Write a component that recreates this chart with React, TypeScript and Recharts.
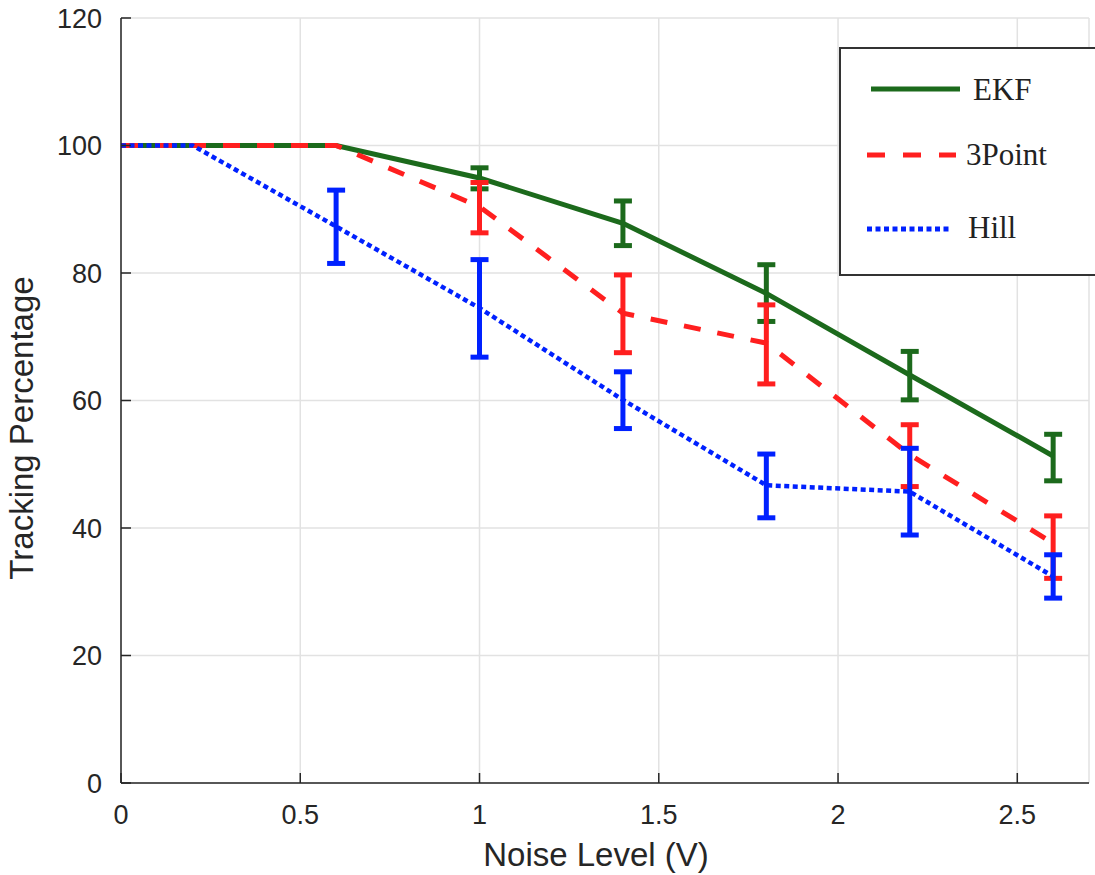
import React from 'react';
import { LineChart, Line, XAxis, YAxis, CartesianGrid, ErrorBar } from 'recharts';

// noise level (V)
const noise = [0, 0.2, 0.6, 1.0, 1.4, 1.8, 2.2, 2.6];

const ekf = [100, 100, 100, 94.9, 87.8, 76.8, 64.0, 51.3];
const ekfLow = [null, null, null, 93.2, 84.3, 72.4, 60.1, 47.4];
const ekfHigh = [null, null, null, 96.5, 91.3, 81.3, 67.7, 54.7];

const threePoint = [100, 100, 100, 90.4, 73.7, 69.0, 51.5, 37.6];
const threePointLow = [null, null, null, 86.3, 67.5, 62.6, 46.5, 32.1];
const threePointHigh = [null, null, null, 94.2, 79.7, 75.0, 56.2, 41.9];

const hill = [100, 100, 87.3, 74.5, 60.1, 46.7, 45.7, 32.4];
const hillLow = [null, null, 81.5, 66.8, 55.6, 41.6, 38.9, 29.0];
const hillHigh = [null, null, 93.0, 82.1, 64.5, 51.6, 52.5, 35.8];

const xTicks = [0, 0.5, 1, 1.5, 2, 2.5];
const yTicks = [0, 20, 40, 60, 80, 100, 120];

const GREEN = '#1c6a1c';
const RED = '#ff1f1f';
const BLUE = '#0021ff';
const AXIS = '#262626';

const err = (v: number, lo: number | null, hi: number | null) =>
  lo == null || hi == null ? null : [v - lo, hi - v];

const data = noise.map((n, i) => ({
  noise: n,
  ekf: ekf[i],
  ekfErr: err(ekf[i], ekfLow[i], ekfHigh[i]),
  threePoint: threePoint[i],
  threePointErr: err(threePoint[i], threePointLow[i], threePointHigh[i]),
  hill: hill[i],
  hillErr: err(hill[i], hillLow[i], hillHigh[i]),
}));

const tickStyle = { fill: AXIS, fontSize: 27, fontFamily: '"Liberation Sans", Arial, sans-serif' };
const labelFont = '"Liberation Sans", Arial, sans-serif';
const legendFont = '"Liberation Serif", "DejaVu Serif", serif';

const LegendBox = () => (
  <div
    style={{
      position: 'absolute',
      left: 839,
      top: 47,
      width: 270,
      height: 229,
      boxSizing: 'border-box',
      border: '2px solid #333',
      background: '#fff',
    }}
  >
    <svg width={270} height={229} style={{ position: 'absolute', left: -2, top: -2 }}>
      <line x1={32} x2={121} y1={42} y2={42} stroke={GREEN} strokeWidth={5} />
      <text x={134} y={53} fontSize={31} fontFamily={legendFont} fill="#222">EKF</text>
      <line x1={28} x2={117} y1={108} y2={108} stroke={RED} strokeWidth={5} strokeDasharray="18 18" />
      <text x={127} y={118} fontSize={31} fontFamily={legendFont} fill="#222">3Point</text>
      <line x1={28} x2={113} y1={182} y2={182} stroke={BLUE} strokeWidth={5} strokeDasharray="5 3.5" />
      <text x={129} y={191} fontSize={31} fontFamily={legendFont} fill="#222">Hill</text>
    </svg>
  </div>
);

const App: React.FC = () => {
  return (
    <div style={{ position: 'absolute', left: 0, top: 0, width: 1095, height: 875, overflow: 'hidden', background: '#fff' }}>
      <LineChart width={1095} height={875} data={data} margin={{ top: 18, right: 6, left: 0, bottom: 0 }}>
        <CartesianGrid stroke="#e2e2e2" strokeWidth={1.5} />
        <XAxis
          type="number"
          dataKey="noise"
          domain={[0, 2.7]}
          ticks={xTicks}
          height={92}
          tick={tickStyle}
          tickSize={-10}
          tickMargin={32}
          axisLine={{ stroke: AXIS, strokeWidth: 1.5 }}
          tickLine={{ stroke: AXIS, strokeWidth: 1.5 }}
          label={{
            content: () => (
              <text x={596} y={866} textAnchor="middle" fontSize={33} fontFamily={labelFont} fill={AXIS}>
                Noise Level (V)
              </text>
            ),
          }}
        />
        <YAxis
          type="number"
          domain={[0, 120]}
          ticks={yTicks}
          width={121}
          tick={tickStyle}
          tickSize={-10}
          tickMargin={29}
          axisLine={{ stroke: AXIS, strokeWidth: 1.5 }}
          tickLine={{ stroke: AXIS, strokeWidth: 1.5 }}
          label={{
            content: () => (
              <text
                x={33}
                y={428}
                transform="rotate(-90 33 428)"
                textAnchor="middle"
                fontSize={33}
                fontFamily={labelFont}
                fill={AXIS}
              >
                Tracking Percentage
              </text>
            ),
          }}
        />
        <Line type="linear" dataKey="ekf" stroke={GREEN} strokeWidth={5} dot={false} isAnimationActive={false}>
          <ErrorBar dataKey="ekfErr" width={9} strokeWidth={5} stroke={GREEN} direction="y" isAnimationActive={false} />
        </Line>
        <Line
          type="linear"
          dataKey="threePoint"
          stroke={RED}
          strokeWidth={5}
          strokeDasharray="17 17"
          dot={false}
          isAnimationActive={false}
        >
          <ErrorBar dataKey="threePointErr" width={9} strokeWidth={5} stroke={RED} direction="y" isAnimationActive={false} />
        </Line>
        <Line
          type="linear"
          dataKey="hill"
          stroke={BLUE}
          strokeWidth={4.5}
          strokeDasharray="5 3.5"
          dot={false}
          isAnimationActive={false}
        >
          <ErrorBar dataKey="hillErr" width={9} strokeWidth={5} stroke={BLUE} direction="y" isAnimationActive={false} />
        </Line>
      </LineChart>
      <LegendBox />
    </div>
  );
};

export default App;
